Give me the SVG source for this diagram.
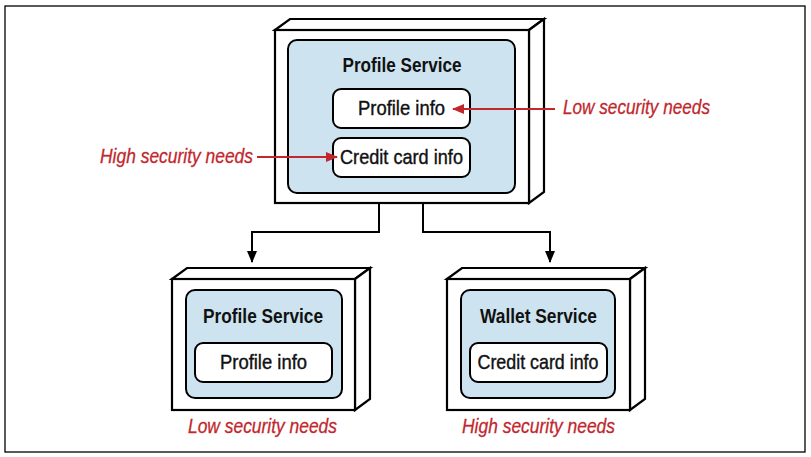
<svg xmlns="http://www.w3.org/2000/svg" width="811" height="457" viewBox="0 0 811 457">
<style>
.frame{fill:#fff;stroke:#000;stroke-width:1.3}
.box{fill:#fff;stroke:#000;stroke-width:2.2;stroke-linejoin:miter}
.svc{fill:#cde3f0;stroke:#000;stroke-width:2}
.item{fill:#fff;stroke:#000;stroke-width:2}
.t{font-family:"Liberation Sans",Arial,sans-serif;fill:#111;text-anchor:middle}
.b{font-weight:bold;font-size:21px}
.n{font-size:21px;stroke:#111;stroke-width:0.4}
.r{font-family:"Liberation Sans",Arial,sans-serif;font-style:italic;font-size:21px;fill:#c1272d;stroke:#c1272d;stroke-width:0.3}
.conn{fill:none;stroke:#000;stroke-width:2}
.red{fill:none;stroke:#c1272d;stroke-width:2}
</style>
<defs>
<marker id="ah" markerWidth="12" markerHeight="10" refX="11" refY="5" orient="auto" markerUnits="userSpaceOnUse">
<path d="M0,0 L12,5 L0,10 Z" fill="#000"/>
</marker>
<marker id="rh" markerWidth="12" markerHeight="10" refX="11" refY="5" orient="auto" markerUnits="userSpaceOnUse">
<path d="M0,0 L12,5 L0,10 Z" fill="#c1272d"/>
</marker>
</defs>
<rect class="frame" x="5" y="6" width="800" height="446"/>

<g id="top-node">
<polygon class="box" points="275,30 290,19 544,19 529,30"/>
<polygon class="box" points="529,30 544,19 544,192 529,203"/>
<rect class="box" x="275" y="30" width="254" height="173"/>
<rect class="svc" x="288" y="40" width="227" height="153" rx="9"/>
<text class="t b" x="402" y="72" textLength="119" lengthAdjust="spacingAndGlyphs">Profile Service</text>
<g id="top-profile-info">
<rect class="item" x="333" y="89" width="137" height="39" rx="8"/>
<text class="t n" x="401.5" y="115" textLength="87" lengthAdjust="spacingAndGlyphs">Profile info</text>
</g>
<g id="top-credit-card-info">
<rect class="item" x="333" y="138" width="137" height="39" rx="8"/>
<text class="t n" x="401.5" y="164" textLength="123" lengthAdjust="spacingAndGlyphs">Credit card info</text>
</g>
</g>

<g id="label-low-top">
<text class="r" x="563" y="114" textLength="147" lengthAdjust="spacingAndGlyphs">Low security needs</text>
</g>
<g id="label-high-top">
<text class="r" x="100" y="163" textLength="153" lengthAdjust="spacingAndGlyphs">High security needs</text>
</g>

<g id="left-node">
<polygon class="box" points="172,279 187,268 370,268 355,279"/>
<polygon class="box" points="355,279 370,268 370,399 355,410"/>
<rect class="box" x="172" y="279" width="183" height="131"/>
<rect class="svc" x="186" y="290" width="156" height="108" rx="9"/>
<text class="t b" x="263" y="323" textLength="120" lengthAdjust="spacingAndGlyphs">Profile Service</text>
<rect class="item" x="195" y="343" width="137" height="39" rx="8"/>
<text class="t n" x="263.5" y="369" textLength="87" lengthAdjust="spacingAndGlyphs">Profile info</text>
<text class="r" x="262.5" y="433" text-anchor="middle" textLength="149" lengthAdjust="spacingAndGlyphs">Low security needs</text>
</g>

<g id="right-node">
<polygon class="box" points="447,279 462,268 645,268 630,279"/>
<polygon class="box" points="630,279 645,268 645,399 630,410"/>
<rect class="box" x="447" y="279" width="183" height="131"/>
<rect class="svc" x="461" y="290" width="154" height="108" rx="9"/>
<text class="t b" x="538.5" y="323" textLength="117" lengthAdjust="spacingAndGlyphs">Wallet Service</text>
<rect class="item" x="470" y="343" width="137" height="39" rx="8"/>
<text class="t n" x="538" y="369" textLength="121" lengthAdjust="spacingAndGlyphs">Credit card info</text>
<text class="r" x="538.5" y="433" text-anchor="middle" textLength="153" lengthAdjust="spacingAndGlyphs">High security needs</text>
</g>

<g id="connectors">
<path class="conn" d="M379,203 V232 H252 V262" marker-end="url(#ah)"/>
<path class="conn" d="M423,203 V232 H550 V262" marker-end="url(#ah)"/>
<path class="red" d="M555,109 H453" marker-end="url(#rh)"/>
<path class="red" d="M257,157 H337" marker-end="url(#rh)"/>
</g>
</svg>
